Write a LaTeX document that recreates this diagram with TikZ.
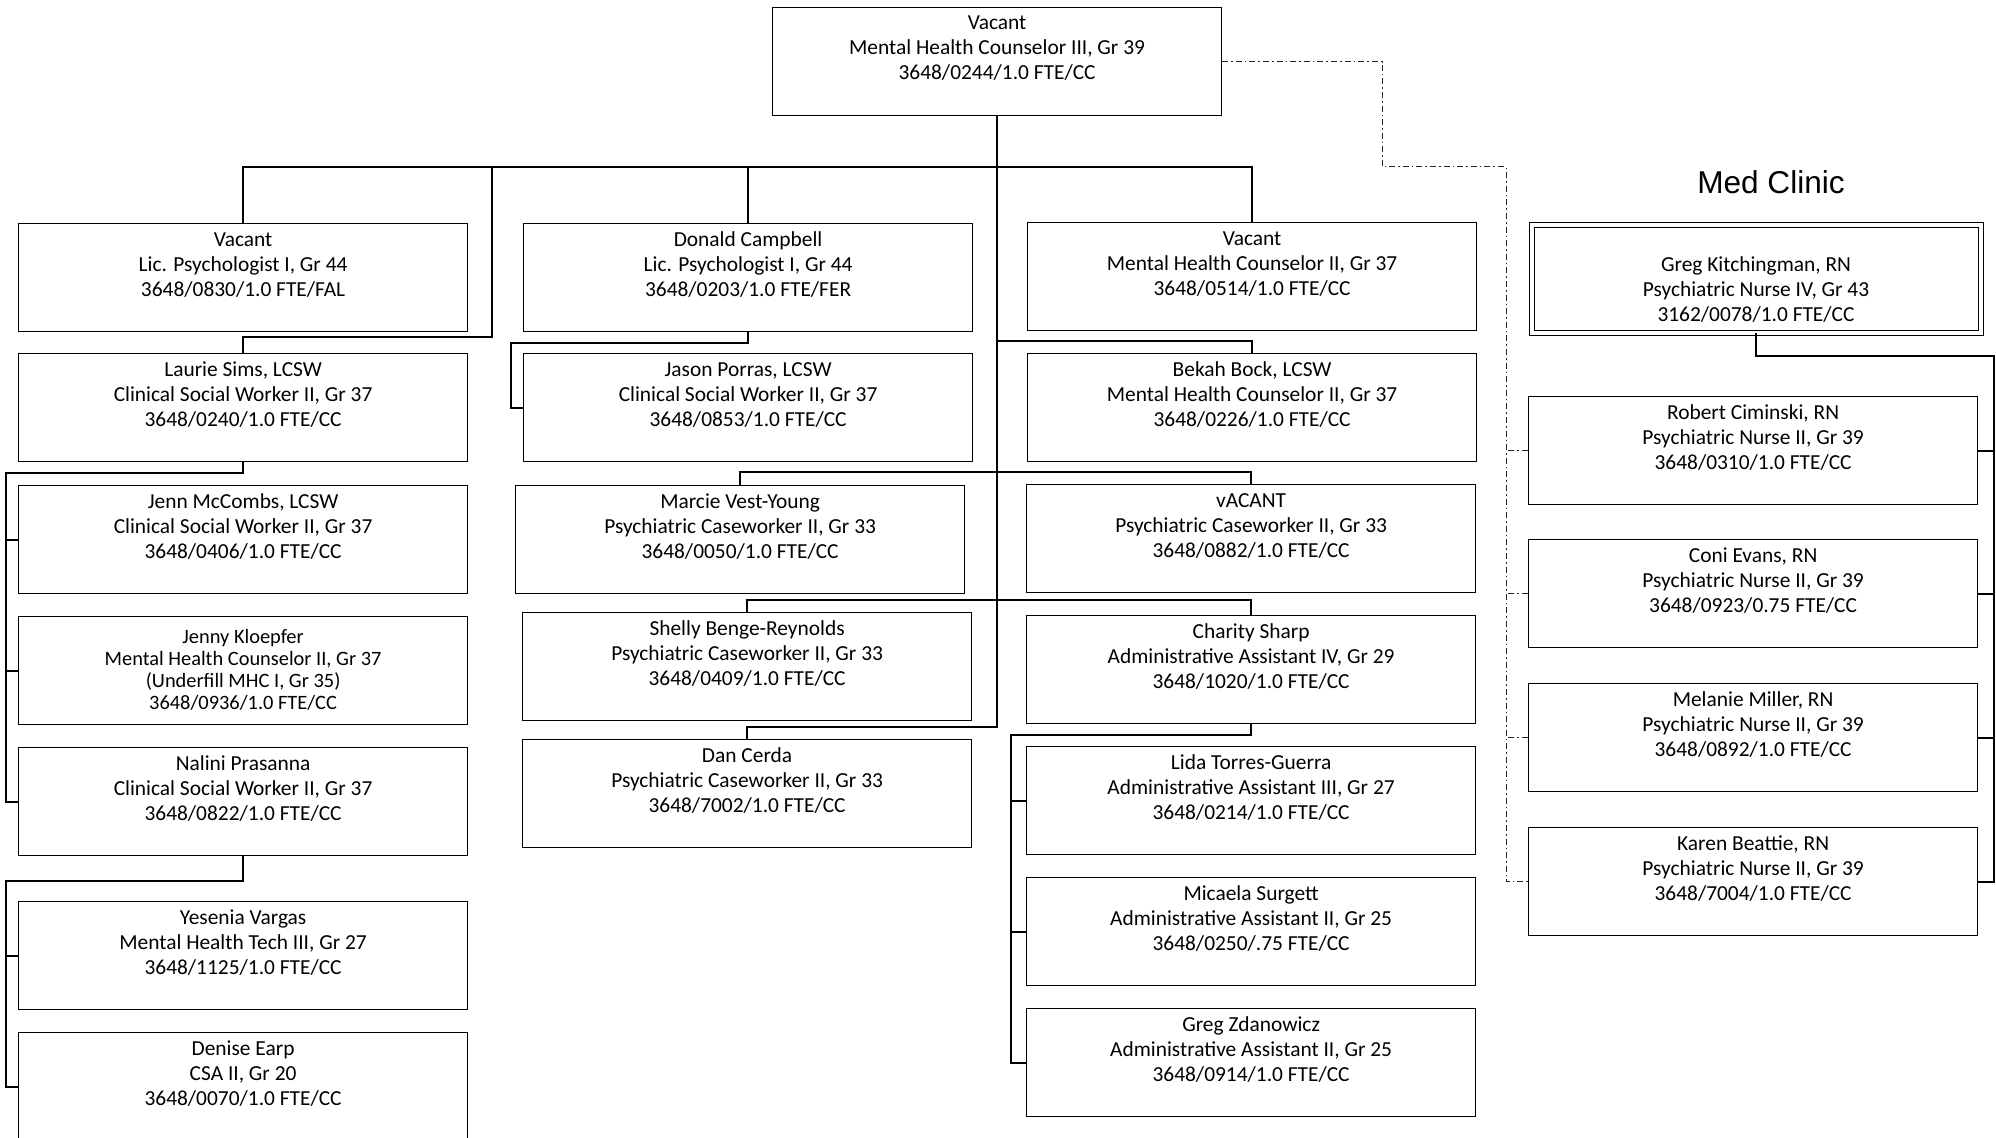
\documentclass[tikz,border=0pt]{standalone}
\usepackage{fontspec}
\setmainfont{Carlito}
\newfontfamily\titlefont{Liberation Sans}
\newcommand{\jobbox}[2][11.2pt]{\parbox[c][54pt][t]{224.5pt}{\centering\rule{0pt}{#1}#2}}
\tikzset{
  post/.style={draw, line width=0.6pt, inner sep=0pt, anchor=north west, font=\fontsize{10.7}{12.5}\selectfont},
  link/.style={line width=1.1pt},
  dotlink/.style={line width=0.45pt, black!85, dash pattern=on 3pt off 1.5pt on 0.8pt off 1.5pt}
}
\begin{document}
\begin{tikzpicture}[x=0.5pt,y=-0.5pt]
    \useasboundingbox (0,0) rectangle (1996,1137);
    \coordinate (bus) at (0,167);\coordinate (bus2) at (0,472);\coordinate (bus3) at (0,600);
    \coordinate (tapL) at (492,167);
    \coordinate (railL) at (6,0);\coordinate (railA) at (1011,0);
    \coordinate (railD) at (1506,0);\coordinate (railN) at (1994,0);
    \node[post] (top) at (772,7) {\jobbox[10.9pt]{Vacant\\Mental Health Counselor III, Gr 39\\3648/0244/1.0 FTE/CC}};
    \node[post] (psyA) at (18,223) {\jobbox{Vacant\\Lic. Psychologist I, Gr 44\\3648/0830/1.0 FTE/FAL}};
    \node[post] (sims) at (18,353) {\jobbox{Laurie Sims, LCSW\\Clinical Social Worker II, Gr 37\\3648/0240/1.0 FTE/CC}};
    \node[post] (mccombs) at (18,485) {\jobbox{Jenn McCombs, LCSW\\Clinical Social Worker II, Gr 37\\3648/0406/1.0 FTE/CC}};
    \node[post,font=\fontsize{10.2}{11}\selectfont] (kloepfer) at (18,616) {\jobbox[13.3pt]{Jenny Kloepfer\\Mental Health Counselor II, Gr 37\\(Underfill MHC I, Gr 35)\\3648/0936/1.0 FTE/CC}};
    \node[post] (prasanna) at (18,747) {\jobbox{Nalini Prasanna\\Clinical Social Worker II, Gr 37\\3648/0822/1.0 FTE/CC}};
    \node[post] (vargas) at (18,901) {\jobbox{Yesenia Vargas\\Mental Health Tech III, Gr 27\\3648/1125/1.0 FTE/CC}};
    \node[post] (earp) at (18,1032) {\jobbox{Denise Earp\\CSA II, Gr 20\\3648/0070/1.0 FTE/CC}};
    \node[post] (campbell) at (523,223) {\jobbox{Donald Campbell\\Lic. Psychologist I, Gr 44\\3648/0203/1.0 FTE/FER}};
    \node[post] (porras) at (523,353) {\jobbox{Jason Porras, LCSW\\Clinical Social Worker II, Gr 37\\3648/0853/1.0 FTE/CC}};
    \node[post] (vest) at (515,485) {\jobbox{Marcie Vest-Young\\Psychiatric Caseworker II, Gr 33\\3648/0050/1.0 FTE/CC}};
    \node[post] (benge) at (522,612) {\jobbox{Shelly Benge-Reynolds\\Psychiatric Caseworker II, Gr 33\\3648/0409/1.0 FTE/CC}};
    \node[post] (cerda) at (522,739) {\jobbox{Dan Cerda\\Psychiatric Caseworker II, Gr 33\\3648/7002/1.0 FTE/CC}};
    \node[post] (mhcB) at (1027,222) {\jobbox{Vacant\\Mental Health Counselor II, Gr 37\\3648/0514/1.0 FTE/CC}};
    \node[post] (bock) at (1027,353) {\jobbox{Bekah Bock, LCSW\\Mental Health Counselor II, Gr 37\\3648/0226/1.0 FTE/CC}};
    \node[post] (pcw) at (1026,484) {\jobbox{vACANT\\Psychiatric Caseworker II, Gr 33\\3648/0882/1.0 FTE/CC}};
    \node[post] (sharp) at (1026,615) {\jobbox{Charity Sharp\\Administrative Assistant IV, Gr 29\\3648/1020/1.0 FTE/CC}};
    \node[post] (torres) at (1026,746) {\jobbox{Lida Torres-Guerra\\Administrative Assistant III, Gr 27\\3648/0214/1.0 FTE/CC}};
    \node[post] (surgett) at (1026,877) {\jobbox{Micaela Surgett\\Administrative Assistant II, Gr 25\\3648/0250/.75 FTE/CC}};
    \node[post] (zdan) at (1026,1008) {\jobbox{Greg Zdanowicz\\Administrative Assistant II, Gr 25\\3648/0914/1.0 FTE/CC}};
    \node[font=\titlefont\fontsize{15.8}{18}\selectfont] (med) at (1771,182) {Med Clinic};
    \node[post,line width=0.5pt,double,double distance=2pt] (kitch) at (1531,224) {\jobbox[23.7pt]{Greg Kitchingman, RN\\Psychiatric Nurse IV, Gr 43\\3162/0078/1.0 FTE/CC}};
    \node[post] (ciminski) at (1528,396) {\jobbox{Robert Ciminski, RN\\Psychiatric Nurse II, Gr 39\\3648/0310/1.0 FTE/CC}};
    \node[post] (evans) at (1528,539) {\jobbox{Coni Evans, RN\\Psychiatric Nurse II, Gr 39\\3648/0923/0.75 FTE/CC}};
    \node[post] (miller) at (1528,683) {\jobbox{Melanie Miller, RN\\Psychiatric Nurse II, Gr 39\\3648/0892/1.0 FTE/CC}};
    \node[post] (beattie) at (1528,827) {\jobbox{Karen Beattie, RN\\Psychiatric Nurse II, Gr 39\\3648/7004/1.0 FTE/CC}};
    \draw[link] (top.south) -- ++(0,611) -| (cerda.north);
    \draw[link] (psyA.north) |- (mhcB.north |- bus) -- (mhcB.north);
    \draw[link] (campbell.north) -- (campbell.north |- bus);
    \draw[link] (sims.north) -- ++(0,-16) -| (tapL);
    \draw[link] (campbell.south) -- ++(0,11) -- ++(-237,0) |- (porras.west);
    \draw[link] (bock.north) -- ++(0,-12) -| (top.south);
    \draw[link] (vest.north) |- (pcw.north |- bus2) -- (pcw.north);
    \draw[link] (benge.north) |- (sharp.north |- bus3) -- (sharp.north);
    \draw[link] (sims.south) -- ++(0,11) -| (railL |- prasanna.west) -- (prasanna.west);
    \draw[link] (prasanna.south) -- ++(0,25) -| (railL |- earp.west) -- (earp.west);
    \foreach \n in {mccombs,kloepfer,vargas}
        \draw[link] (\n.west) -- (\n.west -| railL);
    \draw[link] (sharp.south) -- ++(0,11) -| (railA |- zdan.west) -- (zdan.west);
    \foreach \n in {torres,surgett}
        \draw[link] (\n.west) -- (\n.west -| railA);
    \draw[link] (kitch.south) -- ++(0,23) -| (railN |- beattie.east) -- (beattie.east);
    \foreach \n in {ciminski,evans,miller}
        \draw[link] (\n.east) -- (\n.east -| railN);
    \draw[dotlink] (top.east) -- ++(160,0) -- ++(0,105) -| (railD |- beattie.west) -- (beattie.west);
    \foreach \n in {ciminski,evans,miller}
        \draw[dotlink] (\n.west) -- (\n.west -| railD);
\end{tikzpicture}
\end{document}
